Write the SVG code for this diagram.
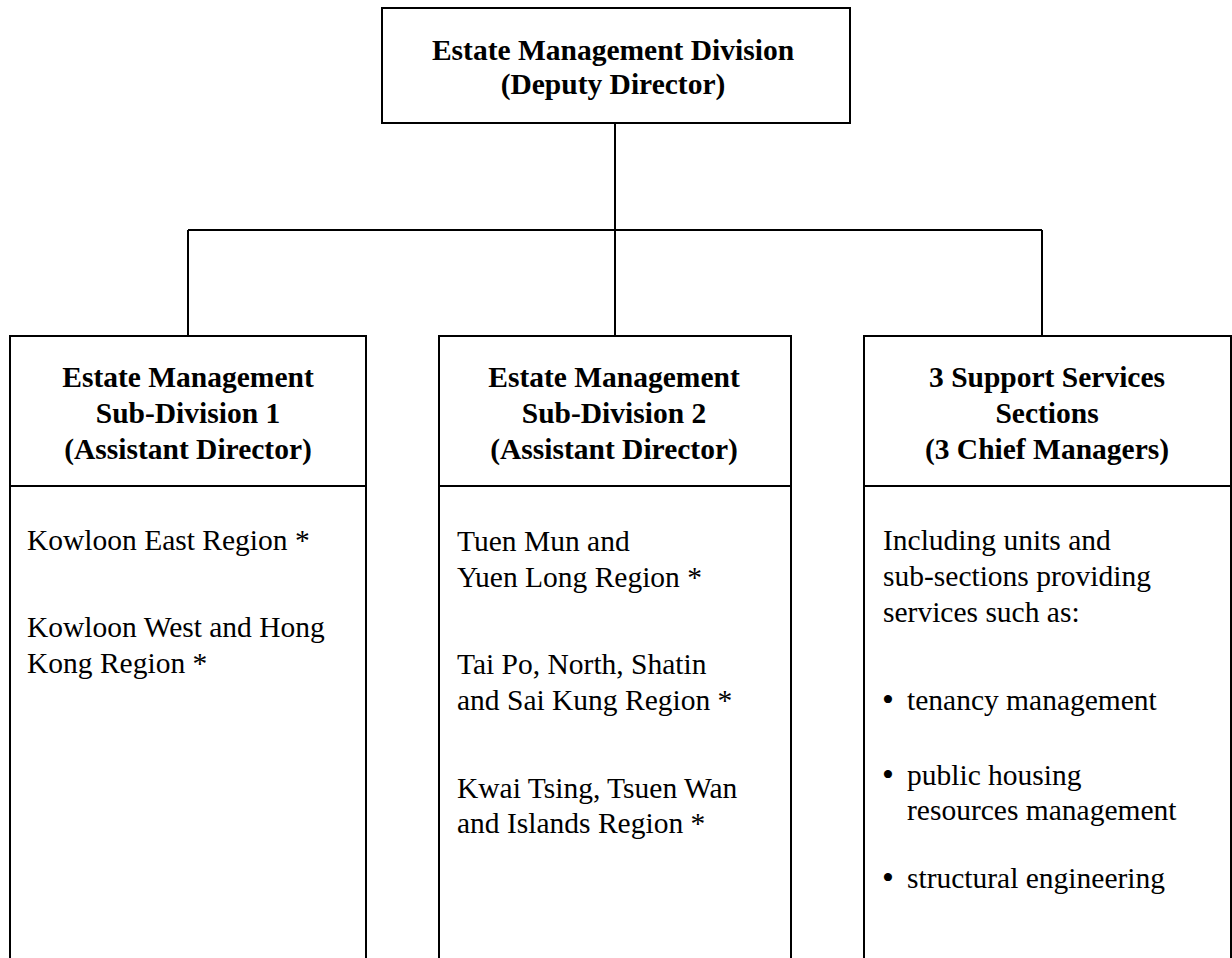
<svg xmlns="http://www.w3.org/2000/svg" width="1232" height="958" viewBox="0 0 1232 958">
  <style>
    .box { fill: #ffffff; stroke: #000000; stroke-width: 2; }
    .div { stroke: #000000; stroke-width: 2; fill: none; }
    .conn { stroke: #000000; stroke-width: 2; fill: none; }
    .h { font-family: "Liberation Serif", "Times New Roman", serif; font-weight: bold; font-size: 29.5px; text-anchor: middle; fill: #000000; }
    .t { font-family: "Liberation Serif", "Times New Roman", serif; font-size: 29.5px; fill: #000000; }
    .b { font-family: "Liberation Serif", "Times New Roman", serif; font-size: 34px; fill: #000000; }
  </style>
  <rect x="0" y="0" width="1232" height="958" fill="#ffffff"/>
  <g id="connectors">
    <path class="conn" d="M615 123 V230 M188 230 H1042 M188 230 V336 M615 230 V336 M1042 230 V336"/>
  </g>
  <g id="node-top">
    <rect class="box" x="382" y="8" width="468" height="115"/>
    <text class="h" x="613" y="60">Estate Management Division</text>
    <text class="h" x="613" y="94">(Deputy Director)</text>
  </g>
  <g id="node-sub1">
    <rect class="box" x="10" y="336" width="356" height="640"/>
    <line class="div" x1="10" y1="486" x2="366" y2="486"/>
    <text class="h" x="188" y="387">Estate Management</text>
    <text class="h" x="188" y="423">Sub-Division 1</text>
    <text class="h" x="188" y="459">(Assistant Director)</text>
    <text class="t" x="27" y="550">Kowloon East Region *</text>
    <text class="t" x="27" y="637">Kowloon West and Hong</text>
    <text class="t" x="27" y="673">Kong Region *</text>
  </g>
  <g id="node-sub2">
    <rect class="box" x="439" y="336" width="352" height="640"/>
    <line class="div" x1="439" y1="486" x2="791" y2="486"/>
    <text class="h" x="614" y="387">Estate Management</text>
    <text class="h" x="614" y="423">Sub-Division 2</text>
    <text class="h" x="614" y="459">(Assistant Director)</text>
    <text class="t" x="457" y="551">Tuen Mun and</text>
    <text class="t" x="457" y="587">Yuen Long Region *</text>
    <text class="t" x="457" y="674">Tai Po, North, Shatin</text>
    <text class="t" x="457" y="710">and Sai Kung Region *</text>
    <text class="t" x="457" y="798">Kwai Tsing, Tsuen Wan</text>
    <text class="t" x="457" y="833">and Islands Region *</text>
  </g>
  <g id="node-support">
    <rect class="box" x="864" y="336" width="367" height="640"/>
    <line class="div" x1="864" y1="486" x2="1231" y2="486"/>
    <text class="h" x="1047" y="387">3 Support Services</text>
    <text class="h" x="1047" y="423">Sections</text>
    <text class="h" x="1047" y="459">(3 Chief Managers)</text>
    <text class="t" x="883" y="550">Including units and</text>
    <text class="t" x="883" y="586">sub-sections providing</text>
    <text class="t" x="883" y="622">services such as:</text>
    <text class="b" x="882" y="711">•</text>
    <text class="t" x="907" y="710">tenancy management</text>
    <text class="b" x="882" y="786">•</text>
    <text class="t" x="907" y="785">public housing</text>
    <text class="t" x="907" y="820">resources management</text>
    <text class="b" x="882" y="889">•</text>
    <text class="t" x="907" y="888">structural engineering</text>
  </g>
</svg>
